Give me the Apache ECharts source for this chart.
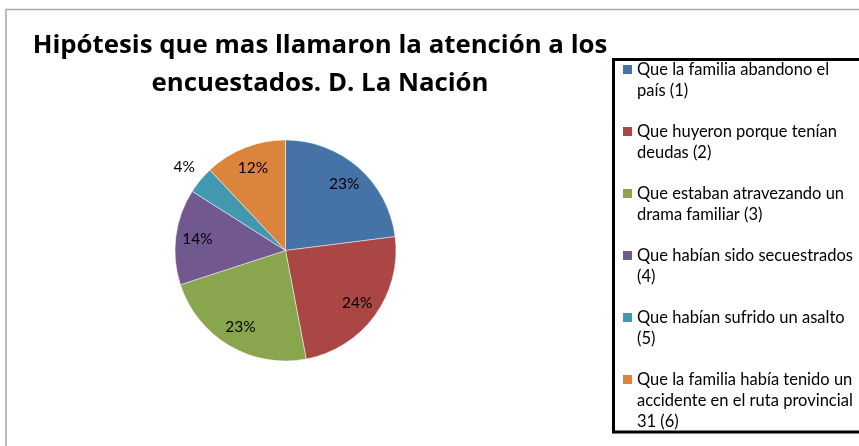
<!DOCTYPE html>
<html>
<head>
<meta charset="utf-8">
<script src="https://cdn.jsdelivr.net/npm/echarts@6/dist/echarts.min.js"></script>
<style>
  html, body { margin: 0; padding: 0; background: #fff; }
  #chart { width: 859px; height: 446px; }
</style>
</head>
<body>
<div id="chart"></div>
<script>
const titleText = 'Hipótesis que mas llamaron la atención a los\nencuestados. D. La Nación';
const categories = [
  'Que la familia abandono el\npaís (1)',
  'Que huyeron porque tenían\ndeudas (2)',
  'Que estaban atravezando un\ndrama familiar (3)',
  'Que habían sido secuestrados\n(4)',
  'Que habían sufrido un asalto\n(5)',
  'Que la familia había tenido un\naccidente en el ruta provincial\n31 (6)'
];
const values = [23, 24, 23, 14, 4, 12];

const colors = ['#4572A7', '#AA4643', '#89A54E', '#71588F', '#4198AF', '#DB843D'];
const font = 'Lato';
const R = 110.5;
const center = [285.5, 250.5];
const lineH = 21;

const pieData = categories.map((c, i) => ({ name: c, value: values[i] }));

// label rings: small slices get their label outside the pie
const innerLabels = values.map((v, i) => ({
  name: categories[i], value: v,
  label: { show: v >= 5 }
}));
const outerLabels = values.map((v, i) => ({
  name: categories[i], value: v,
  label: { show: v < 5 }
}));

const labelRing = (radius, data) => ({
  type: 'pie',
  radius: radius,
  center: center,
  startAngle: 90,
  silent: true,
  animation: false,
  itemStyle: { color: 'rgba(0,0,0,0)', borderWidth: 0 },
  label: {
    position: 'inside',
    formatter: '{d}%',
    color: '#000',
    fontFamily: font,
    fontSize: 15.5
  },
  labelLine: { show: false },
  emphasis: { disabled: true },
  data: data
});

// icon box as tall as the text block, square sits beside the first line
const iconFor = lines => {
  const h = lines * lineH;
  return 'path://M0,0L0.01,0M9,' + h + 'L8.99,' + h + 'M0,5.5L9,5.5L9,14.5L0,14.5Z';
};

const legendBase = {
  orient: 'vertical',
  left: 623,
  padding: 0,
  itemWidth: 9,
  selectedMode: false,
  itemStyle: { borderWidth: 0 },
  textStyle: { fontFamily: font, fontSize: 16.5, color: '#000', lineHeight: lineH }
};

const chart = echarts.init(document.getElementById('chart'));
chart.setOption({
  backgroundColor: '#fff',
  color: colors,
  animation: false,
  title: {
    text: titleText,
    left: 320,
    top: 27,
    padding: 0,
    textAlign: 'center',
    textStyle: {
      fontFamily: 'Open Sans',
      fontWeight: 'bold',
      fontSize: 25.8,
      lineHeight: 38,
      color: '#000'
    }
  },
  graphic: [
    {
      type: 'rect',
      shape: { x: 6, y: 9.5, width: 900, height: 500 },
      style: { fill: 'none', stroke: '#a6a6a6', lineWidth: 1.5 },
      silent: true
    },
    {
      type: 'rect',
      z: 10,
      shape: { x: 613.5, y: 59.5, width: 300, height: 372.5 },
      style: { fill: 'none', stroke: '#000', lineWidth: 3 },
      silent: true
    }
  ],
  legend: [
    Object.assign({}, legendBase, {
      top: 59.5,
      itemGap: 20,
      itemHeight: 2 * lineH,
      icon: iconFor(2),
      data: categories.slice(0, 5)
    }),
    Object.assign({}, legendBase, {
      top: 369.5,
      itemHeight: 3 * lineH,
      icon: iconFor(3),
      data: categories.slice(5)
    })
  ],
  series: [
    {
      type: 'pie',
      radius: R,
      center: center,
      startAngle: 90,
      itemStyle: { borderColor: 'rgba(255,255,255,0.8)', borderWidth: 0.6 },
      label: { show: false },
      labelLine: { show: false },
      emphasis: { disabled: true },
      data: pieData
    },
    labelRing([R * 0.55, R], innerLabels),
    labelRing([R + 5, R + 31], outerLabels)
  ]
});
</script>
</body>
</html>
